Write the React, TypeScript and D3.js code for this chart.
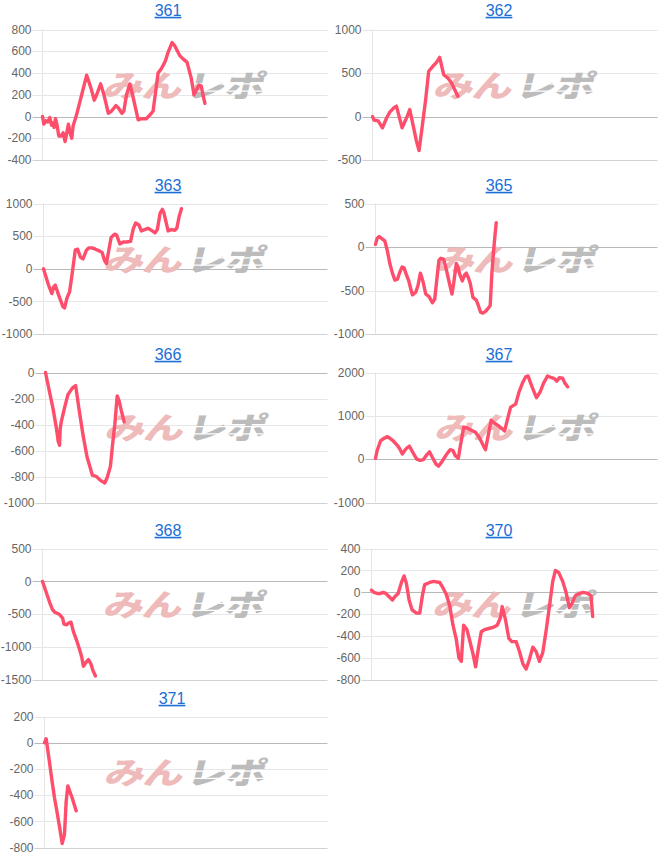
import React from "react";
import * as d3 from "d3";

// ---- data: [game share of the axis (0-100), difference] ----
const d361: [number, number][] = [
  [0, 0], [0.47, -70], [1.17, -40], [1.86, -50], [2.56, -10], [3.15, -80], [3.61, -60], [4.08, -100],
  [4.55, -20], [5.13, -80], [5.71, -180], [6.53, -180], [7.23, -150], [7.93, -230], [8.51, -150],
  [9.09, -70], [9.67, -150], [10.26, -200], [10.72, -90], [12.0, 20], [13.75, 200], [15.5, 380],
  [16.9, 270], [18.18, 150], [19.0, 200], [20.4, 300], [21.56, 200], [23.08, 30], [24.24, 50],
  [25.76, 100], [26.57, 80], [27.86, 30], [28.55, 50], [29.49, 200], [30.65, 300], [31.59, 200],
  [33.57, -30], [34.73, -20], [36.48, -20], [38.23, 30], [38.81, 50], [40.56, 400], [41.72, 440],
  [43.12, 510], [44.06, 590], [45.45, 680], [46.39, 650], [48.14, 560], [49.3, 530], [50.7, 500],
  [52.21, 350], [53.15, 200], [53.96, 240], [54.9, 290], [55.71, 280], [56.29, 200], [56.99, 120],
];
const d362: [number, number][] = [
  [0, 0], [0.47, -40], [1.98, -50], [3.5, -130], [4.9, -20], [6.07, 50], [7.47, 100], [8.4, 120],
  [10.39, -130], [11.9, -20], [13.07, 80], [14.24, -100], [15.4, -280], [16.34, -390], [17.5, -100],
  [18.67, 200], [19.72, 520], [21.24, 580], [22.4, 620], [23.57, 680], [24.97, 480], [26.49, 440],
  [27.66, 390], [28.82, 310], [29.99, 230],
];
const d363: [number, number][] = [
  [0, 0], [1.77, -250], [2.95, -380], [3.54, -280], [4.13, -250], [5.31, -400], [6.84, -580],
  [7.43, -600], [8.25, -450], [9.2, -350], [10.02, -100], [11.2, 290], [12.03, 300], [12.97, 180],
  [13.91, 150], [15.09, 280], [15.92, 320], [17.1, 320], [18.28, 300], [19.81, 270], [20.64, 250],
  [21.46, 130], [22.17, 80], [22.64, 200], [23.82, 480], [25.0, 530], [25.71, 520], [26.89, 380],
  [28.07, 410], [29.24, 410], [30.66, 420], [31.6, 610], [32.43, 700], [33.61, 670], [34.43, 580],
  [35.61, 600], [36.79, 620], [38.32, 580], [39.27, 550], [40.09, 600], [41.04, 850], [41.86, 910],
  [42.45, 850], [43.87, 580], [45.05, 600], [46.23, 590], [46.93, 620], [47.76, 800], [48.58, 920],
];
const d365: [number, number][] = [
  [0, 30], [0.59, 100], [1.3, 120], [2.12, 100], [3.3, 70], [4.25, -50], [5.07, -190], [6.01, -300],
  [6.84, -380], [7.78, -370], [8.61, -290], [9.43, -230], [10.14, -240], [10.97, -320], [11.79, -390],
  [12.5, -480], [13.09, -550], [14.27, -520], [15.09, -440], [15.92, -300], [16.86, -400],
  [17.81, -540], [18.99, -570], [20.16, -640], [20.99, -600], [21.82, -350], [22.52, -150],
  [23.11, -130], [24.17, -140], [25.12, -260], [26.3, -430], [27.12, -540], [27.71, -420],
  [28.66, -190], [29.25, -230], [29.83, -310], [30.78, -390], [31.6, -320], [32.19, -300],
  [33.02, -360], [33.61, -420], [34.55, -580], [35.73, -610], [36.56, -680], [37.26, -750],
  [38.09, -760], [39.03, -740], [40.09, -700], [40.68, -670], [41.27, -300], [41.86, -50],
  [42.33, 120], [42.81, 280],
];
const d366: [number, number][] = [
  [0, 0], [1.43, -150], [2.61, -270], [3.8, -420], [4.51, -530], [4.99, -560], [5.23, -430],
  [5.58, -380], [6.77, -270], [7.96, -170], [9.5, -120], [10.69, -100], [11.88, -280], [13.3, -480],
  [14.73, -650], [15.68, -720], [16.63, -790], [18.05, -800], [19.48, -830], [21.02, -850],
  [21.85, -810], [23.04, -720], [23.75, -560], [24.58, -400], [25.42, -180], [26.13, -220],
  [26.96, -300], [27.91, -380],
];
const d367: [number, number][] = [
  [0, 20], [0.59, 200], [1.78, 420], [2.97, 480], [4.28, 520], [5.11, 480], [6.3, 420], [7.73, 320],
  [8.68, 230], [9.51, 120], [10.82, 240], [12.01, 300], [13.2, 160], [14.63, 0], [15.82, -30],
  [17.0, -10], [18.19, 100], [19.14, 170], [20.33, 20], [21.52, -120], [22.35, -160], [23.54, -60],
  [25.09, 100], [26.52, 220], [27.47, 200], [28.3, 80], [29.37, 20], [30.08, 300], [31.27, 740],
  [32.46, 720], [33.65, 680], [35.43, 620], [36.98, 480], [38.17, 320], [39.0, 220], [39.83, 500],
  [41.02, 900], [42.21, 830], [43.4, 780], [44.95, 700], [45.78, 650], [46.73, 900], [47.92, 1200],
  [49.7, 1270], [50.89, 1550], [52.08, 1750], [53.27, 1900], [54.1, 1920], [55.05, 1750],
  [56.24, 1550], [57.08, 1420], [58.38, 1550], [59.57, 1750], [61.0, 1920], [62.43, 1880],
  [63.38, 1860], [64.33, 1800], [65.16, 1880], [66.35, 1870], [67.18, 1750], [68.13, 1670],
];
const d368: [number, number][] = [
  [0, 0], [1.18, -150], [2.59, -330], [3.53, -430], [4.35, -470], [5.88, -500], [7.06, -560],
  [7.53, -650], [8.47, -660], [9.29, -630], [10.0, -620], [10.82, -760], [12.0, -900], [12.94, -1030],
  [13.76, -1150], [14.35, -1290], [15.29, -1230], [16.12, -1190], [16.94, -1250], [17.65, -1350],
  [18.59, -1440],
];
const d370: [number, number][] = [
  [0, 20], [0.81, 0], [1.98, -10], [3.14, -10], [4.07, 0], [5.0, -10], [6.16, -40], [7.33, -70],
  [8.14, -40], [9.3, -10], [10.47, 90], [11.4, 150], [12.21, 80], [13.14, -70], [14.19, -160],
  [15.7, -190], [16.86, -190], [17.79, -30], [18.6, 70], [20.35, 90], [21.74, 100], [23.84, 90],
  [25.0, 40], [26.16, -20], [27.33, -120], [28.49, -300], [29.65, -430], [30.58, -600], [31.4, -630],
  [32.21, -300], [33.37, -340], [34.53, -460], [35.47, -560], [36.4, -680], [37.44, -500],
  [38.37, -360], [39.53, -340], [41.05, -330], [42.44, -320], [43.95, -300], [45.12, -230],
  [45.7, -130], [46.86, -250], [48.02, -420], [49.07, -450], [50.58, -450], [51.74, -540],
  [52.91, -650], [54.07, -700], [55.23, -610], [56.4, -500], [57.56, -540], [58.72, -630],
  [59.88, -550], [61.05, -350], [62.21, -130], [63.37, 100], [64.3, 200], [65.47, 180], [66.86, 100],
  [68.02, 0], [69.19, -140], [70.12, -100], [71.28, -30], [72.67, -10], [74.07, 0], [75.58, -10],
  [76.74, -30], [77.33, -220],
];
const d371: [number, number][] = [
  [0, 0], [0.59, 30], [1.76, -150], [2.71, -300], [3.53, -420], [4.35, -520], [5.29, -640],
  [6.24, -770], [7.06, -700], [7.65, -450], [8.24, -330], [9.76, -420], [11.18, -520],
];

// ---- tick labels per chart ----
const t361 = [800, 600, 400, 200, 0, -200, -400];
const t362 = [1000, 500, 0, -500];
const t363 = [1000, 500, 0, -500, -1000];
const t365 = [500, 0, -500, -1000];
const t366 = [0, -200, -400, -600, -800, -1000];
const t367 = [2000, 1000, 0, -1000];
const t368 = [500, 0, -500, -1000, -1500];
const t370 = [400, 200, 0, -200, -400, -600, -800];
const t371 = [200, 0, -200, -400, -600, -800];

const titles = ["361", "362", "363", "365", "366", "367", "368", "370", "371"];
const series = [d361, d362, d363, d365, d366, d367, d368, d370, d371];
const tickSets = [t361, t362, t363, t365, t366, t367, t368, t370, t371];

// ---- layout (pixels) ----
const rowTop = [29.5, 203.5, 372.5, 548.5, 716.5];
const rowBottom = [160, 334, 502.5, 680, 847.5];
const titleY = [10, 185, 354, 530, 698];
const colRight = [327.5, 657.5];
const colTitleX = [168, 499];
const plotLefts = [42.5, 372.5, 43.5, 375.5, 45.5, 375.5, 42.5, 371.5, 44.5];

const LINE = "#ff4d6c";
const FONT = "'Liberation Sans', Arial, Helvetica, sans-serif";

function Panel({ idx }: { idx: number }) {
  const col = idx % 2;
  const row = Math.floor(idx / 2);
  const left = plotLefts[idx];
  const right = colRight[col];
  const top = rowTop[row];
  const bottom = rowBottom[row];
  const ticks = tickSets[idx];
  const data = series[idx];
  const x = d3.scaleLinear().domain([0, 100]).range([left, right]);
  const y = d3
    .scaleLinear()
    .domain([d3.min(ticks) as number, d3.max(ticks) as number])
    .range([bottom, top]);
  const line = d3
    .line<[number, number]>()
    .x((d) => x(d[0]))
    .y((d) => y(d[1]))
    .curve(d3.curveLinear);
  const cx = (left + right) / 2;
  const cy = top + (bottom - top) * 0.43;
  const titleX = idx === 8 ? 172 : colTitleX[col];
  const minT = d3.min(ticks) as number;
  return (
    <g>
      <text
        x={titleX}
        y={titleY[row]}
        dy="0.36em"
        textAnchor="middle"
        fontFamily={FONT}
        fontSize={16}
        fill="#1a6fd6"
        textDecoration="underline"
      >
        {titles[idx]}
      </text>
      {/* grid */}
      <line x1={left} x2={left} y1={top} y2={bottom} stroke="#e4e4e4" strokeWidth={1} />
      {ticks.map((t) => (
        <g key={t}>
          <line
            x1={left - 10}
            x2={right}
            y1={Math.round(y(t)) + 0.5}
            y2={Math.round(y(t)) + 0.5}
            stroke={t === 0 ? "#b8b8b8" : t === minT ? "#d2d2d2" : "#e6e6e6"}
            strokeWidth={1}
          />
          <text
            x={left - 11}
            y={y(t)}
            dy="0.35em"
            textAnchor="end"
            fontFamily={FONT}
            fontSize={12}
            fill="#666"
          >
            {t}
          </text>
        </g>
      ))}
      {/* watermark */}
      <g transform={`translate(${cx},${cy}) skewX(-14) scale(1.05,0.8)`}>
        <text
          x={-2}
          y={0}
          dy="0.36em"
          textAnchor="end"
          fontFamily="'Noto Sans CJK JP', sans-serif"
          fontWeight={900}
          fontSize={38}
          fill="#eebaba"
          letterSpacing={-1}
        >
          みん
        </text>
        <text
          x={2}
          y={0}
          dy="0.36em"
          textAnchor="start"
          fontFamily="'Noto Sans CJK JP', sans-serif"
          fontWeight={900}
          fontSize={38}
          fill="#bcbcbc"
          letterSpacing={-1}
        >
          レポ
        </text>
        <rect x={0} y={-3} width={80} height={1.6} fill="#fff" />
        <rect x={0} y={6} width={80} height={1.6} fill="#fff" />
      </g>
      <path
        d={line(data) || ""}
        fill="none"
        stroke={LINE}
        strokeWidth={3.4}
        strokeLinejoin="round"
        strokeLinecap="round"
      />
    </g>
  );
}

export default function App() {
  return (
    <svg
      width={666}
      height={858}
      style={{ position: "absolute", left: 0, top: 0, background: "#fff" }}
    >
      {titles.map((_, i) => (
        <Panel key={i} idx={i} />
      ))}
    </svg>
  );
}
